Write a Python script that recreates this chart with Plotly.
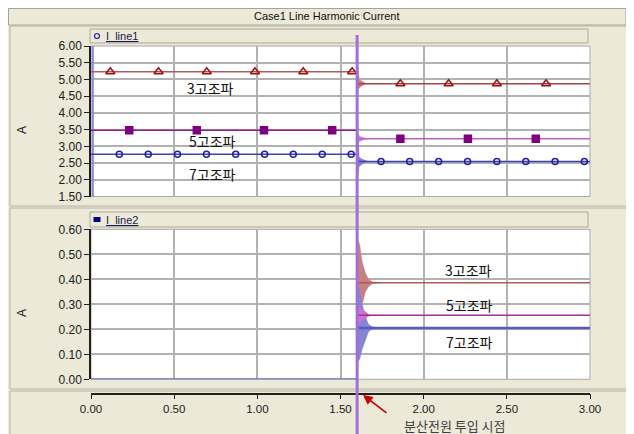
import plotly.graph_objects as go

# ---------------- data ----------------
t_pre = [0.0, 1.6]
t_post = [1.6, 3.0]

# top panel (I_line1) steady values
i3_top = [5.23, 4.87]
i5_top = [3.48, 3.23]
i7_top = [2.76, 2.55]

# bottom panel (I_line2) steady values
i3_bot = [0.0, 0.386]
i5_bot = [0.0, 0.256]
i7_bot = [0.0, 0.205]

# marker positions
m3_pre = [0.116, 0.406, 0.696, 0.986, 1.276, 1.57]
m3_post = [1.86, 2.15, 2.44, 2.736]
m5_pre = [0.23, 0.636, 1.04, 1.45]
m5_post = [1.86, 2.266, 2.674]
m7_pre = [0.17, 0.344, 0.52, 0.694, 0.87, 1.044, 1.216, 1.39, 1.564]
m7_post = [1.744, 1.916, 2.09, 2.264, 2.44, 2.614, 2.79, 2.966]

# transient envelopes (top)
tr_t_top = [1.600, 1.612, 1.625, 1.645, 1.665]
tr3_top_hi = [5.64, 5.00, 4.96, 4.90, 4.87]
tr3_top_lo = [4.68, 4.72, 4.80, 4.85, 4.87]
tr5_top_hi = [3.36, 3.31, 3.28, 3.25, 3.23]
tr5_top_lo = [3.10, 3.14, 3.18, 3.21, 3.23]
tr7_top_hi = [4.00, 2.68, 2.63, 2.58, 2.55]
tr7_top_lo = [2.00, 2.40, 2.46, 2.52, 2.55]
# start-up spike (top)
st_t = [0.004, 0.016]
st_hi = [6.0, 6.0]
st_lo = [1.5, 1.5]

# transient envelopes (bottom)
tr_t_bot = [1.602, 1.615, 1.63, 1.65, 1.668, 1.69, 1.74]
tr3_bot_hi = [0.56, 0.54, 0.47, 0.425, 0.40, 0.39, 0.386]
tr3_bot_lo = [0.21, 0.23, 0.30, 0.35, 0.37, 0.382, 0.386]
tr5_bot_hi = [0.30, 0.29, 0.28, 0.27, 0.26, 0.256, 0.256]
tr5_bot_lo = [0.21, 0.225, 0.235, 0.245, 0.252, 0.256, 0.256]
tr7_bot_hi = [0.38, 0.36, 0.30, 0.25, 0.22, 0.21, 0.205]
tr7_bot_lo = [0.07, 0.08, 0.12, 0.155, 0.19, 0.20, 0.205]

x_ticks = [0.0, 0.5, 1.0, 1.5, 2.0, 2.5, 3.0]
event_t = 1.6

# ---------------- helpers ----------------
OFF = 8                      # page body margin offset
W, H = 634 - OFF, 434 - OFF  # figure size
L = 91 - OFF
R = W - (590 - OFF)


def px(x):  # screen x -> paper
    return (x - OFF - L) / (W - L - R)


def py(y):  # screen y -> paper
    return (H - (y - OFF)) / H


C3, C3m = "#B05A5A", "#A01010"
C5a, C5b, C5m = "#901C90", "#C060C0", "#800080"
C7, C7m = "#4040B0", "#2020A0"

fig = go.Figure()


def env(t, hi, lo, color, xa, ya):
    fig.add_trace(go.Scatter(x=list(t) + list(t[::-1]), y=list(hi) + list(lo[::-1]),
                             fill="toself", fillcolor=color, mode="lines",
                             line=dict(width=0.5, color=color), xaxis=xa, yaxis=ya,
                             hoverinfo="skip"))


def hline(t, v, color, xa, ya, width=1.5):
    fig.add_trace(go.Scatter(x=t, y=[v, v], mode="lines", line=dict(color=color, width=width),
                             xaxis=xa, yaxis=ya))


def marks(t, v, symbol, color, size, xa, ya, filled=False):
    fig.add_trace(go.Scatter(x=t, y=[v] * len(t), mode="markers",
                             marker=dict(symbol=symbol, size=size,
                                         color=color if filled else "rgba(0,0,0,0)",
                                         line=dict(color=color, width=1.5)),
                             xaxis=xa, yaxis=ya))


# top panel
env(st_t, st_hi, st_lo, "#8A8AD8", "x", "y")
env(tr_t_top, tr3_top_hi, tr3_top_lo, "#C88080", "x", "y")
env(tr_t_top, tr5_top_hi, tr5_top_lo, "#D088D0", "x", "y")
env(tr_t_top, tr7_top_hi, tr7_top_lo, "#8080D0", "x", "y")
hline(t_pre, i3_top[0], C3, "x", "y")
hline(t_post, i3_top[1], "#A04848", "x", "y")
hline(t_pre, i5_top[0], C5a, "x", "y")
hline(t_post, i5_top[1], C5b, "x", "y")
hline(t_pre, i7_top[0], C7, "x", "y")
hline(t_post, i7_top[1], C7, "x", "y")
marks(m3_pre, i3_top[0], "triangle-up", C3m, 8, "x", "y")
marks(m3_post, i3_top[1], "triangle-up", C3m, 8, "x", "y")
marks(m5_pre, i5_top[0], "square", C5m, 7, "x", "y", filled=True)
marks(m5_post, i5_top[1], "square", C5m, 7, "x", "y", filled=True)
marks(m7_pre, i7_top[0], "circle", C7m, 6, "x", "y")
marks(m7_post, i7_top[1], "circle", C7m, 6, "x", "y")

# bottom panel
env(tr_t_bot, tr3_bot_hi, tr3_bot_lo, "#C88080", "x2", "y2")
env(tr_t_bot, tr7_bot_hi, tr7_bot_lo, "#8585D5", "x2", "y2")
env(tr_t_bot, tr5_bot_hi, tr5_bot_lo, "#D070D0", "x2", "y2")
hline(t_post, i3_bot[1], "#B05A5A", "x2", "y2")
hline(t_post, i5_bot[1], "#A030A0", "x2", "y2")
hline(t_post, i7_bot[1], "#5A5AC0", "x2", "y2", width=2.5)
hline(t_pre, i7_bot[0], "#6A6AC4", "x2", "y2", width=2)

# dummy trace for the bottom time axis strip
fig.add_trace(go.Scatter(x=[0, 3], y=[0, 0], mode="markers", marker=dict(opacity=0),
                         xaxis="x3", yaxis="y3", hoverinfo="skip"))

tickfont = dict(family="Liberation Sans", size=12, color="#202020")
grid = dict(showgrid=True, gridcolor="#B2B2B2", gridwidth=1.5, zeroline=False, automargin=False)

fig.update_layout(
    width=W, height=H, margin=dict(l=L, r=R, t=0, b=0, autoexpand=False),
    paper_bgcolor="#ECE9D8", plot_bgcolor="rgba(0,0,0,0)", showlegend=False,
    xaxis=dict(domain=[0, 1], range=[0, 3], anchor="y", tickvals=x_ticks, showticklabels=False,
               ticks="", showline=False, **grid),
    yaxis=dict(domain=[py(196.5), py(46)], range=[1.5, 6.0], dtick=0.5, tickformat=".2f",
               ticks="outside", ticklen=5, tickcolor="#202020", showline=True, linecolor="#202020",
               linewidth=1.5, tickfont=tickfont, **grid),
    xaxis2=dict(domain=[0, 1], range=[0, 3], anchor="y2", tickvals=x_ticks, showticklabels=False,
                ticks="", showline=False, **grid),
    yaxis2=dict(domain=[py(379.3), py(229.3)], range=[0, 0.6], dtick=0.1, tickformat=".2f",
                ticks="outside", ticklen=5, tickcolor="#202020", showline=True, linecolor="#202020",
                linewidth=1.5, tickfont=tickfont, **grid),
    xaxis3=dict(domain=[0, 1], range=[0, 3], anchor="free", position=py(393.5), side="bottom",
                tickvals=x_ticks, tickformat=".2f",
                ticks="outside", ticklen=5, tickcolor="#202020", showline=True, linecolor="#202020",
                linewidth=1.5, showgrid=False, zeroline=False, automargin=False,
                tickfont=dict(family="Liberation Sans", size=11.5, color="#202020")),
    yaxis3=dict(domain=[0.0, 0.05], visible=False, range=[-1, 1], automargin=False),
)

shapes = []
PANEL_LINE = "#B8B4A2"
# title bar and panels
shapes.append(dict(type="rect", xref="paper", yref="paper", x0=px(8.5), x1=px(626), y0=py(25), y1=py(8.5),
                   line=dict(color="#A8A494", width=1), fillcolor="#ECE9D8", layer="below"))
for (a, b) in [(26, 206), (208, 389), (391, 440)]:
    shapes.append(dict(type="rect", xref="paper", yref="paper", x0=px(10), x1=px(627), y0=py(b), y1=py(a),
                       line=dict(color=PANEL_LINE, width=1), fillcolor="#ECE9D8", layer="below"))
# legend bars
for (a, b) in [(29, 43), (212, 227)]:
    shapes.append(dict(type="rect", xref="paper", yref="paper", x0=px(90), x1=px(588), y0=py(b), y1=py(a),
                       line=dict(color="#ACA898", width=1), fillcolor="#ECE9D8", layer="below"))
# white plot areas
for (xr, yr) in [("x domain", "y domain"), ("x2 domain", "y2 domain")]:
    shapes.append(dict(type="rect", xref=xr, yref=yr, x0=0, x1=1, y0=0, y1=1,
                       line=dict(color="#A8A8A8", width=1), fillcolor="white", layer="below"))
# legend symbols
shapes.append(dict(type="circle", xref="paper", yref="paper", x0=px(94.5), x1=px(99.5), y0=py(38.5), y1=py(33.5),
                   line=dict(color="#2020A0", width=1.2), fillcolor="rgba(0,0,0,0)"))
shapes.append(dict(type="rect", xref="paper", yref="paper", x0=px(93.5), x1=px(100.5), y0=py(222), y1=py(217),
                   line=dict(color="#000090", width=0), fillcolor="#000090"))
# event line
shapes.append(dict(type="line", xref="x", yref="paper", x0=event_t, x1=event_t, y0=py(440), y1=py(35),
                   line=dict(color="#A070D8", width=3), layer="above"))
fig.update_layout(shapes=shapes)

ann = []


def label(text, x, y, font, xanchor="center", angle=0):
    ann.append(dict(text=text, x=px(x), y=py(y), xref="paper", yref="paper", showarrow=False,
                    xanchor=xanchor, yanchor="middle", textangle=angle, font=font))


label("Case1 Line Harmonic Current", 327, 16, dict(family="Liberation Sans", size=11, color="#101010"))
# legend texts
lfont = dict(family="Liberation Sans", size=11, color="#1A1A50")
label("<u>I_line1</u>", 104, 36, lfont, xanchor="left")
label("<u>I_line2</u>", 104, 219.5, lfont, xanchor="left")
# axis titles
for yy in (130, 313):
    label("A", 22, yy, dict(family="Liberation Sans", size=12, color="#202020"), angle=-90)
# harmonic labels
kfont = dict(family="Noto Sans CJK KR", size=14, color="#111111")
for (txt, xx, yy) in [("3고조파", 210, 88), ("5고조파", 212, 141), ("7고조파", 212, 174),
                      ("3고조파", 468, 270), ("5고조파", 469, 305), ("7고조파", 469, 342)]:
    label(txt, xx, yy, kfont)
# arrow + event caption
ann.append(dict(text="", x=px(363), y=py(395), xref="paper", yref="paper", showarrow=True,
                ax=25, ay=19, arrowcolor="#CC0000", arrowwidth=1.6, arrowhead=2, arrowsize=1.2))
label("분산전원 투입 시점", 455, 425, dict(family="Noto Sans CJK KR", size=13, color="#404040"))
fig.update_layout(annotations=ann)

fig.write_html("out.html")
